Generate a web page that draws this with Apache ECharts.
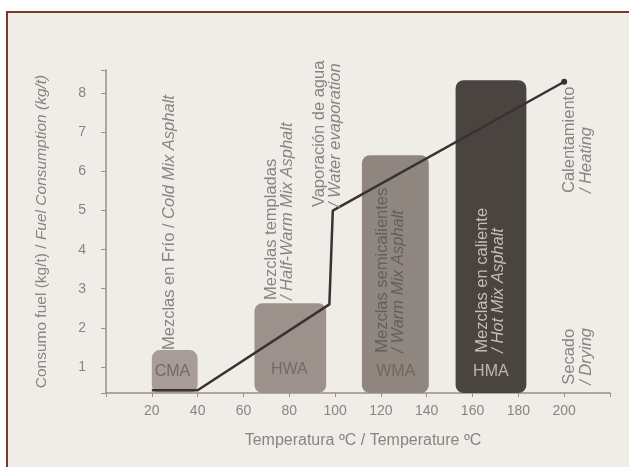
<!DOCTYPE html>
<html><head><meta charset="utf-8">
<script src="https://cdn.jsdelivr.net/npm/echarts@6/dist/echarts.min.js"></script>
<style>html,body{margin:0;padding:0;background:#fff}#c{width:629px;height:467px}</style>
</head><body><div id="c"></div>
<script>
// ---- data ----
const xTicks = [20, 40, 60, 80, 100, 120, 140, 160, 180, 200];
const yTicks = [1, 2, 3, 4, 5, 6, 7, 8];
const barNames = ['CMA', 'HWA', 'WMA', 'HMA'];
const barStart = [20, 64.8, 111.7, 152.6];
const barEnd = [40, 96.1, 140.9, 183.5];
const barTop = [1.43, 2.63, 6.42, 8.34];
const lineX = [20, 40, 97.5, 99, 200];
const lineY = [0.4, 0.4, 2.6, 5.0, 8.3];
const noteLine1 = ['Mezclas en Frío / ', 'Mezclas templadas', 'Vaporación de agua', 'Mezclas semicalientes', 'Mezclas en caliente', 'Calentamiento', 'Secado'];
const noteLine2 = ['Cold Mix Asphalt', '/ Half-Warm Mix Asphalt', '/ Water evaporation', '/ Warm Mix Asphalt', '/ Hot Mix Asphalt', '/ Heating', '/ Drying'];
const noteX = [27.8, 75.7, 96.5, 124.3, 168, 206, 206];
const noteY = [1.43, 2.71, 5.09, 1.36, 1.36, 5.45, 0.54];
const labelX = [29, 80, 126.5, 168];
const labelY = [0.87, 0.92, 0.87, 0.87];

const barColors = ['#a69d96', '#9c928b', '#8f8680', '#4a4441'];
const labelColors = ['#746b66', '#746b66', '#70675f', '#bdb5b0'];
const noteColors = ['#8a8480', '#8a8480', '#8a8480', '#655d58', '#c4bcb7', '#8a8480', '#8a8480'];
const FONT = '"Liberation Sans", Arial, sans-serif';

const chart = echarts.init(document.getElementById('c'));
const barData = barNames.map((n, i) => [barStart[i], barEnd[i], barTop[i], i]);
const noteData = noteX.map((x, i) => [x, noteY[i], i]);
const labelData = labelX.map((x, i) => [x, labelY[i], i]);

chart.setOption({
  animation: false,
  backgroundColor: '#ffffff',
  graphic: [{
    type: 'rect', z: -10, silent: true,
    shape: { x: 7, y: 12, width: 640, height: 480 },
    style: { fill: '#f0ede9', stroke: '#7a3a28', lineWidth: 2 }
  }],
  grid: { left: 106, right: 19, top: 70, bottom: 74 },
  xAxis: {
    type: 'value', min: 0, max: 220, interval: 20,
    splitLine: { show: false },
    axisLine: { lineStyle: { color: '#9a8f89', width: 1.5 } },
    axisTick: { show: true, length: 4, lineStyle: { color: '#9a8f89' } },
    axisLabel: {
      color: '#8a8480', fontSize: 14, fontFamily: FONT, margin: 11,
      formatter: v => xTicks.indexOf(v) >= 0 ? String(v) : ''
    },
    name: 'Temperatura ºC / Temperature ºC',
    nameLocation: 'middle', nameGap: 40,
    nameTextStyle: { color: '#8a8480', fontSize: 16, fontFamily: FONT, padding: [0, 0, 0, 10] }
  },
  yAxis: {
    type: 'value', min: 0.33, max: 8.6, minInterval: 1, maxInterval: 1,
    splitLine: { show: false },
    axisLine: { lineStyle: { color: '#9a8f89', width: 1.5 } },
    axisTick: { show: true, length: 5, lineStyle: { color: '#9a8f89' } },
    axisLabel: {
      color: '#8a8480', fontSize: 14, fontFamily: FONT, margin: 20,
      formatter: v => yTicks.indexOf(v) >= 0 ? String(v) : ''
    },
    name: '{n|Consumo fuel (kg/t) / }{i|Fuel Consumption (kg/t)}',
    nameLocation: 'middle', nameGap: 56,
    nameTextStyle: {
      rich: {
        n: { color: '#8a8480', fontSize: 15.5, fontFamily: FONT },
        i: { color: '#8a8480', fontSize: 15.5, fontFamily: FONT, fontStyle: 'italic' }
      }
    }
  },
  series: [
    {
      type: 'custom', z: 1,
      data: barData,
      encode: { x: [0, 1], y: 2 },
      renderItem: (params, api) => {
        const i = api.value(3);
        const p0 = api.coord([api.value(0), api.value(2)]);
        const p1 = api.coord([api.value(1), 0.33]);
        return {
          type: 'rect',
          shape: { x: p0[0], y: p0[1], width: p1[0] - p0[0], height: p1[1] - p0[1], r: 8 },
          style: { fill: barColors[i] }
        };
      }
    },
    {
      type: 'line', z: 5,
      data: lineX.map((x, i) => [x, lineY[i]]),
      symbol: 'none',
      lineStyle: { color: '#3b3230', width: 2.5 },
      markPoint: {
        symbol: 'circle', symbolSize: 6,
        itemStyle: { color: '#3b3230' },
        label: { show: false },
        data: [{ coord: [lineX[lineX.length - 1], lineY[lineY.length - 1]] }]
      }
    },
    {
      type: 'custom', z: 6,
      data: labelData,
      renderItem: (params, api) => {
        const i = api.value(2);
        const p = api.coord([api.value(0), api.value(1)]);
        return {
          type: 'text', x: p[0], y: p[1],
          style: { text: barNames[i], fill: labelColors[i], font: '16px ' + FONT, align: 'center', verticalAlign: 'middle' }
        };
      }
    },
    {
      type: 'custom', z: 6,
      data: noteData,
      renderItem: (params, api) => {
        const i = api.value(2);
        const p = api.coord([api.value(0), api.value(1)]);
        const c = noteColors[i];
        let text;
        if (i === 0) text = '{n|' + noteLine1[i] + '}{it|' + noteLine2[i] + '}';
        else text = '{n|' + noteLine1[i] + '}\n{it|' + noteLine2[i] + '}';
        return {
          type: 'text', x: p[0], y: p[1], rotation: Math.PI / 2,
          style: {
            text: text, align: 'left', verticalAlign: 'middle',
            rich: {
              n: { fill: c, font: '16.5px ' + FONT, lineHeight: 16 },
              it: { fill: c, font: 'italic 16.5px ' + FONT, lineHeight: 16 }
            }
          }
        };
      }
    }
  ]
});
</script></body></html>
